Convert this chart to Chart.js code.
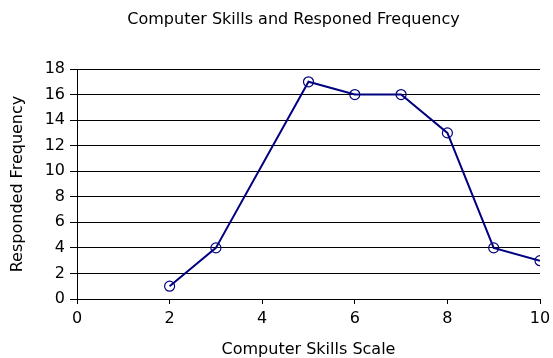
<!DOCTYPE html>
<html>
<head>
<meta charset="utf-8">
<script src="https://cdn.jsdelivr.net/npm/chart.js@4/dist/chart.umd.min.js"></script>
<style>
html,body{margin:0;padding:0;background:#fff;}
#wrap{width:553px;height:358px;position:relative;}
</style>
</head>
<body>
<div id="wrap"><canvas id="c" width="553" height="358"></canvas></div>
<script>
const skillScale = [2, 3, 5, 6, 7, 8, 9, 10];
const frequency = [1, 4, 17, 16, 16, 13, 4, 3];
const chartTitle = 'Computer Skills and Responed Frequency';
const xTitle = 'Computer Skills Scale';
const yTitle = 'Responded Frequency';

const points = skillScale.map((x, i) => ({x: x, y: frequency[i]}));
const FONT = 'DejaVu Sans, Verdana, sans-serif';

const shiftTitle = {
  id: 'shiftTitle',
  afterLayout(chart) {
    if (chart.titleBlock) { chart.titleBlock.left += 47; }
  }
};

new Chart(document.getElementById('c'), {
  type: 'scatter',
  data: {
    datasets: [{
      data: points,
      showLine: true,
      borderColor: '#000080',
      borderWidth: 2,
      pointStyle: 'circle',
      pointRadius: 5,
      pointBorderWidth: 1.2,
      pointBorderColor: '#000080',
      pointBackgroundColor: 'rgba(0,0,0,0)',
      tension: 0
    }]
  },
  plugins: [shiftTitle],
  options: {
    responsive: false,
    animation: false,
    layout: {padding: {left: 0, right: 13, top: 0, bottom: 0}},
    plugins: {
      legend: {display: false},
      tooltip: {enabled: false},
      title: {
        display: true,
        text: chartTitle,
        color: '#000',
        font: {family: FONT, size: 16, weight: 'normal'},
        padding: {top: 10, bottom: 39.8}
      }
    },
    scales: {
      x: {
        type: 'linear',
        min: 0, max: 10,
        ticks: {stepSize: 2, color: '#000', font: {family: FONT, size: 16}, padding: 5},
        grid: {drawOnChartArea: false, color: '#000', tickLength: 5, tickColor: '#000'},
        border: {color: '#000', width: 1},
        title: {display: true, text: xTitle, color: '#000', font: {family: FONT, size: 16, lineHeight: 1}, padding: {top: 0, bottom: 0}},
        afterFit: (s) => { s.height = 59; s.paddingRight = 0; s.paddingLeft = 0; }
      },
      y: {
        type: 'linear',
        min: 0, max: 18,
        ticks: {stepSize: 2, color: '#000', font: {family: FONT, size: 16}, padding: 5},
        grid: {color: '#000', lineWidth: 1, tickLength: 7, tickColor: '#000'},
        border: {color: '#000', width: 1},
        title: {display: true, text: yTitle, color: '#000', font: {family: FONT, size: 16}, padding: {top: 8, bottom: 0}},
        afterFit: (s) => { s.width = 77; s.paddingTop = 0; s.paddingBottom = 0; }
      }
    }
  }
});
</script>
</body>
</html>
